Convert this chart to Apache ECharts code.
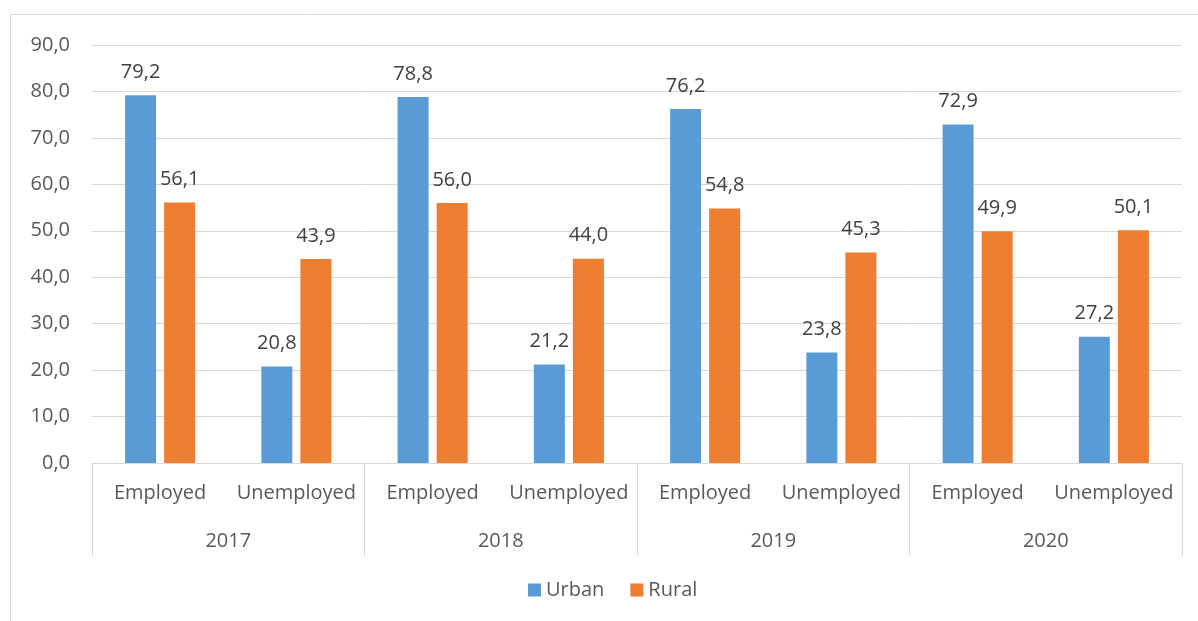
<!DOCTYPE html>
<html>
<head>
<meta charset="utf-8">
<script src="https://cdn.jsdelivr.net/npm/echarts@6/dist/echarts.min.js"></script>
<style>
  html, body { margin: 0; padding: 0; background: #ffffff; }
  #chart { width: 1198px; height: 621px; }
</style>
</head>
<body>
<div id="chart"></div>
<script>
// Employment status by settlement type, %
const statuses = ['Employed', 'Unemployed', 'Employed', 'Unemployed', 'Employed', 'Unemployed', 'Employed', 'Unemployed'];
const years = ['2017', '2018', '2019', '2020'];
const urban = [79.2, 20.8, 78.8, 21.2, 76.2, 23.8, 72.9, 27.2];
const rural = [56.1, 43.9, 56.0, 44.0, 54.8, 45.3, 49.9, 50.1];

const FONT = '"Open Sans", "Noto Sans", sans-serif';
const FS = 20;
const fmt = v => v.toFixed(1).replace('.', ',');

const chart = echarts.init(document.getElementById('chart'), null, { renderer: 'canvas' });

const labelStyle = {
  show: true,
  position: 'top',
  distance: 13,
  color: '#404040',
  fontFamily: FONT,
  fontSize: FS,
  formatter: p => fmt(p.value)
};

chart.setOption({
  animation: false,
  textStyle: { fontFamily: FONT },
  graphic: [{
    type: 'rect',
    shape: { x: 10.5, y: 14.5, width: 1300, height: 700 },
    style: { fill: 'none', stroke: '#d9d9d9', lineWidth: 1 },
    silent: true
  }],
  grid: { left: 92, right: 16, top: 45, bottom: 158 },
  legend: {
    bottom: 16,
    left: 523,
    itemWidth: 13,
    itemHeight: 13,
    itemGap: 26,
    icon: 'rect',
    textStyle: { color: '#595959', fontSize: FS, fontFamily: FONT },
    data: ['Urban', 'Rural']
  },
  xAxis: [{
    type: 'category',
    data: statuses,
    position: 'bottom',
    axisLine: { show: true, lineStyle: { color: '#d9d9d9', width: 1 } },
    axisTick: { show: false },
    axisLabel: { color: '#595959', fontSize: FS, fontFamily: FONT, margin: 20, interval: 0 }
  }, {
    type: 'category',
    data: years,
    position: 'bottom',
    boundaryGap: true,
    axisLine: { show: false },
    axisTick: { show: true, length: 93, interval: 0, lineStyle: { color: '#d9d9d9', width: 1 } },
    axisLabel: { color: '#595959', fontSize: FS, fontFamily: FONT, margin: 68, interval: 0 },
    splitLine: { show: false }
  }],
  yAxis: {
    type: 'value',
    min: 0,
    max: 90,
    interval: 10,
    axisLine: { show: false },
    axisTick: { show: false },
    axisLabel: { color: '#595959', fontSize: FS, fontFamily: FONT, margin: 22, formatter: v => fmt(v) },
    splitLine: { lineStyle: { color: '#d9d9d9', width: 1 } }
  },
  series: [{
    name: 'Urban',
    type: 'bar',
    xAxisIndex: 0,
    data: urban,
    barWidth: 31,
    barGap: '26%',
    itemStyle: { color: '#5b9bd5' },
    label: labelStyle
  }, {
    name: 'Rural',
    type: 'bar',
    xAxisIndex: 0,
    data: rural,
    barWidth: 31,
    barGap: '26%',
    itemStyle: { color: '#ed7d31' },
    label: labelStyle
  }]
});
</script>
</body>
</html>
